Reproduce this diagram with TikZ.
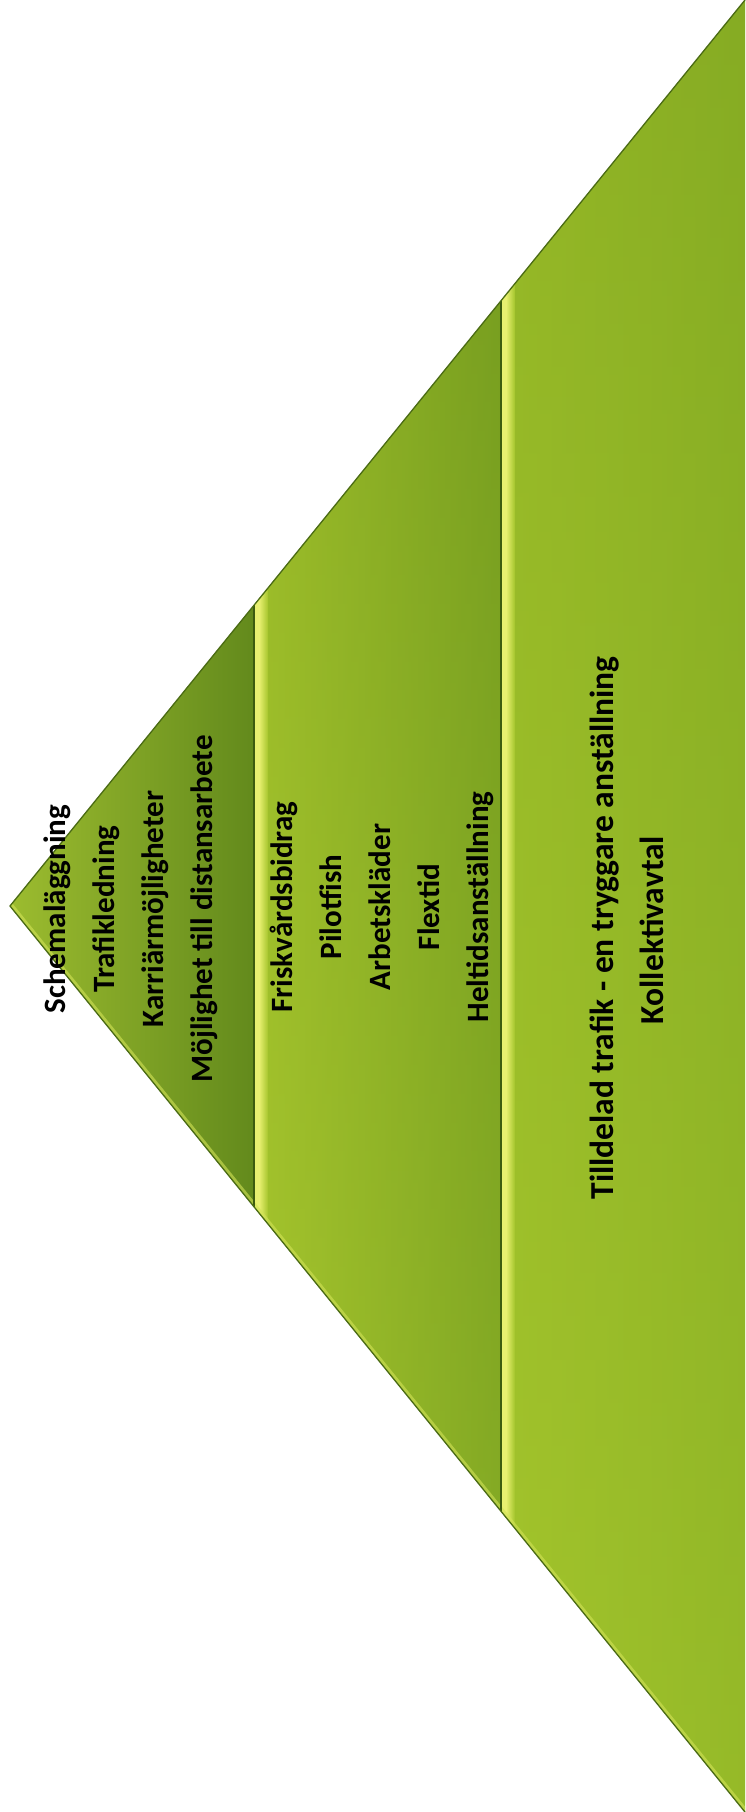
\documentclass[tikz,border=0pt]{standalone}
\usepackage{fontspec}
\setmainfont{Carlito}
\definecolor{lA}{HTML}{9CBC2F}
\definecolor{lAr}{HTML}{638A1C}
\definecolor{lB}{HTML}{A6C52D}
\definecolor{lBr}{HTML}{78A021}
\definecolor{lC}{HTML}{A2C42B}
\definecolor{lCr}{HTML}{8CB326}
\definecolor{edge}{HTML}{4A6B14}
\definecolor{lowedge}{HTML}{D2E356}
\definecolor{shadow}{HTML}{3D5C0F}
\definecolor{hilite}{HTML}{E8F070}
\definecolor{topdark}{HTML}{7A9E1E}
\definecolor{botlight}{HTML}{A8C82E}
\begin{document}
\begin{tikzpicture}[x=1pt,y=-1pt,
  lbl/.style={rotate=90,anchor=base,font=\fontsize{31}{37}\selectfont\bfseries,text=black,inner sep=0pt},
  lblbig/.style={lbl,font=\fontsize{33.5}{40}\selectfont\bfseries},
  divline/.style={draw=shadow,line width=2.5pt},
  outline/.style={draw=edge,line width=1.3pt}]
\useasboundingbox (0,0) rectangle (745,1812);
\fill[white] (0,0) rectangle (745,1812);
\coordinate (A) at (10,906);
\coordinate (T) at (745,0);
\coordinate (B) at (745,1812);
\coordinate (d1t) at (254,605);
\coordinate (d1b) at (254,1207);
\coordinate (d2t) at (501,301);
\coordinate (d2b) at (501,1511);
% layers
\shade[left color=lA,right color=lAr] (A) -- (d1t) -- (d1b) -- cycle;
\shade[left color=lB,right color=lBr] (d1t) -- (d2t) -- (d2b) -- (d1b) -- cycle;
\shade[left color=lC,right color=lCr] (d2t) -- (T) -- (B) -- (d2b) -- cycle;
% vertical tint overlays
\shade[top color=topdark,bottom color=botlight,opacity=0.35] (d2t) -- (T) -- (B) -- (d2b) -- cycle;
\shade[top color=topdark,bottom color=botlight,opacity=0.25] (d1t) -- (d2t) -- (d2b) -- (d1b) -- cycle;
% highlights after dividers
\begin{scope}
\clip (d1t) -- (d2t) -- (d2b) -- (d1b) -- cycle;
\fill[hilite] (254,0) rectangle (259,1812);
\shade[left color=hilite,right color=lB] (259,0) rectangle (268,1812);
\end{scope}
\begin{scope}
\clip (d2t) -- (T) -- (B) -- (d2b) -- cycle;
\fill[hilite] (501,0) rectangle (506,1812);
\shade[left color=hilite,right color=lC] (506,0) rectangle (515,1812);
\end{scope}
% light inner band along lower edge
\begin{scope}
\clip (A) -- (T) -- (B) -- cycle;
\draw[lowedge,line width=7pt,opacity=0.6] (A) -- (B);
\end{scope}
% dividers
\draw[divline] (d1t) -- (d1b);
\draw[divline] (d2t) -- (d2b);
% outer edges
\draw[outline] (T) -- (A) -- (B);
% labels
\node[lbl] (s1) at (65,909) {Schemaläggning};
\node[lbl] (s2) at (114,909) {Trafikledning};
\node[lbl] (s3) at (163,909) {Karriärmöjligheter};
\node[lbl] (s4) at (212,909) {Möjlighet till distansarbete};
\node[lbl] (m1) at (292,907) {Friskvårdsbidrag};
\node[lbl] (m2) at (341,907) {Pilotfish};
\node[lbl] (m3) at (390,907) {Arbetskläder};
\node[lbl] (m4) at (439,907) {Flextid};
\node[lbl] (m5) at (488,907) {Heltidsanställning};
\node[lblbig] (b1) at (613,928) {Tilldelad trafik - en tryggare anställning};
\node[lblbig] (b2) at (663,930) {Kollektivavtal};
\end{tikzpicture}
\end{document}
